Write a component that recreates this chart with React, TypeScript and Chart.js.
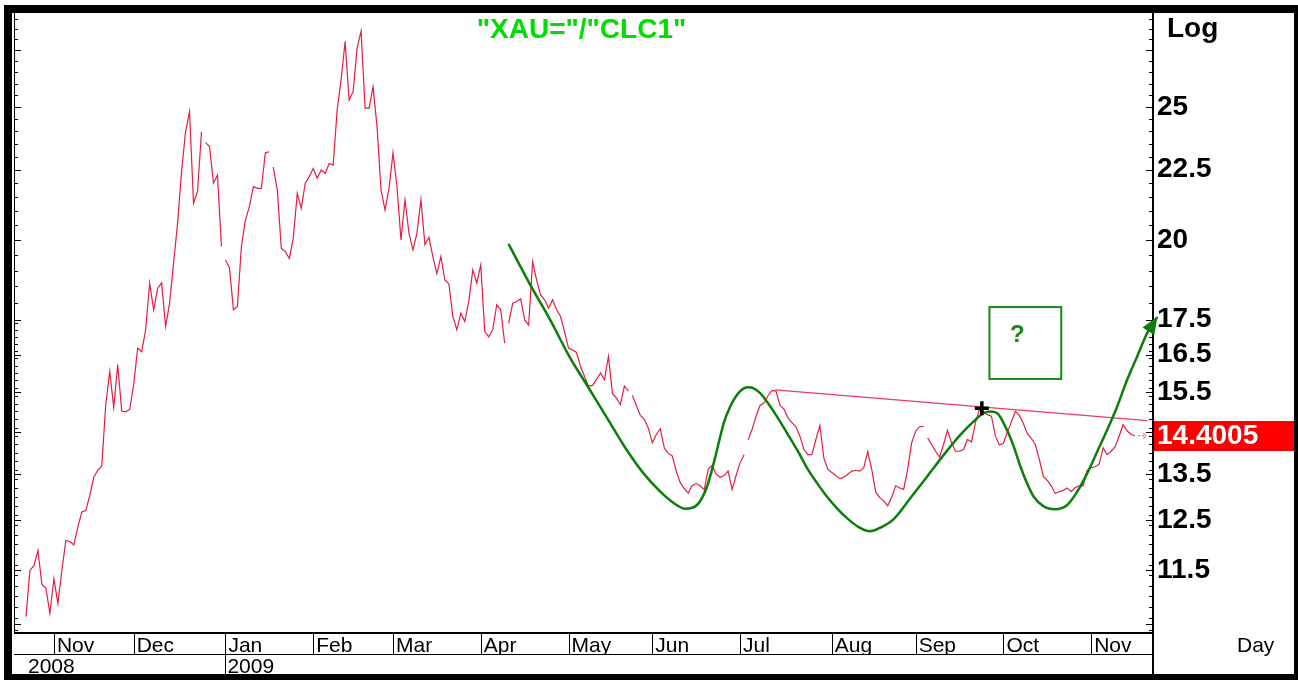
import { useEffect, useRef } from 'react';
import { Chart, registerables } from 'chart.js';

Chart.register(...registerables);

const FONT = '"Liberation Sans", Arial, sans-serif';

// trading-day index of the first value in ratioValues
const FIRST_INDEX = 3;
const ratioValues: number[] = [
  10.63, 11.49, 11.58, 11.88, 11.22, 11.15, 10.69, 11.33, 10.87, 11.49,
  12.08, 12.06, 11.99, 12.36, 12.67, 12.70, 13.03, 13.43, 13.59, 13.69,
  15.17, 16.04, 15.10, 16.23, 15.01, 14.99, 15.05, 15.69, 16.68, 16.58,
  17.20, 18.60, 17.79, 18.44, 18.61, 17.30, 17.99, 19.23, 20.57, 22.43,
  23.98, 24.81, 21.27, 21.69, 23.98, 23.55, 23.40, 22.00, 22.30, 19.78,
  19.34, 19.10, 17.79, 17.89, 19.78, 20.68, 21.15, 21.87, 21.81, 21.81,
  23.15, 23.19, 22.60, 21.75, 19.72, 19.62, 19.39, 20.05, 21.63, 21.09,
  22.00, 22.24, 22.55, 22.18, 22.49, 22.36, 22.74, 22.68, 24.87, 26.20,
  27.90, 25.30, 25.65, 27.60, 28.40, 24.95, 24.95, 25.86, 24.19, 21.75,
  21.03, 21.81, 23.15, 21.87, 20.00, 21.39, 20.23, 19.67, 20.23, 21.40,
  19.84, 20.09, 19.45, 18.90, 19.45, 18.70, 18.58, 17.59, 17.20, 17.69,
  17.44, 18.04, 19.02, 18.60, 19.18, 17.15, 17.00, 17.20, 17.94, 17.79,
  16.82, 17.39, 17.99, 18.04, 18.12, 17.49, 17.34, 19.29, 18.70, 18.24,
  18.09, 17.84, 18.09, 17.79, 17.59, 17.15, 16.68, 16.63, 16.56, 16.18,
  15.91, 15.65, 15.67, 15.82, 16.00, 15.82, 16.45, 15.46, 15.34, 15.17,
  15.65, 15.52, 15.41, 15.15, 14.90, 14.80, 14.59, 14.23, 14.43, 14.57,
  14.11, 13.98, 13.92, 13.57, 13.31, 13.18, 13.08, 13.25, 13.29, 13.24,
  13.15, 13.61, 13.70, 13.50, 13.43, 13.47, 13.57, 13.16, 13.47, 13.76,
  13.95, 14.30, 14.55, 14.88, 15.15, 15.21, 15.40, 15.54, 15.52, 15.15,
  15.06, 14.84, 14.72, 14.62, 14.39, 14.07, 13.95, 13.95, 14.31, 14.65,
  13.87, 13.61, 13.54, 13.47, 13.40, 13.43, 13.50, 13.57, 13.59, 13.57,
  13.65, 14.02, 13.61, 13.10, 12.98, 12.91, 12.80, 12.99, 13.24, 13.19,
  13.16, 13.61, 14.23, 14.51, 14.62, 14.63, 14.35, 14.19, 14.03, 13.89,
  14.19, 14.53, 14.23, 14.03, 14.03, 14.07, 14.31, 14.25, 14.72, 15.05,
  15.00, 14.92, 14.88, 14.39, 14.18, 14.22, 14.49, 14.74, 15.00, 14.90,
  14.70, 14.45, 14.34, 14.19, 13.84, 13.45, 13.36, 13.24, 13.07, 13.11,
  13.14, 13.19, 13.11, 13.20, 13.24, 13.24, 13.59, 13.65, 13.67, 13.73,
  14.11, 13.95, 14.03, 14.13, 14.39, 14.67, 14.52, 14.43, 14.4005,
];
// positions (between trading days) where the plotted line is broken
const lineBreaks = [47.5, 52.5, 64.5, 123.5, 154.5, 183.5, 228.5];
const lastValue = 14.4005;

const monthTicks = [10, 30, 53, 75, 95, 117, 139, 160, 182, 205, 226, 248, 270];
const monthLabels = ['Nov', 'Dec', 'Jan', 'Feb', 'Mar', 'Apr', 'May', 'Jun', 'Jul', 'Aug', 'Sep', 'Oct', 'Nov'];
const yearTicks = [3, 53];
const yearLabels = ['2008', '2009'];

const labelledTicks = [25, 22.5, 20, 17.5, 16.5, 15.5, 13.5, 12.5, 11.5];
const longTicks = [27.5, 25, 22.5, 20, 17.5, 16.5, 15.5, 14.5, 13.5, 12.5, 11.5, 10.5];

// hand-drawn green wave
const curveIdx = [
  123.95, 129.4, 134.4, 139.4, 143.6, 149.45, 153.6, 157.7, 162.0, 165.25,
  168.3, 171.2, 173.7, 175.8, 177.9, 179.5, 181.2, 182.9, 184.1, 185.4,
  187.1, 188.7, 191.25, 193.8, 196.3, 198.8, 201.3, 203.8, 206.3, 208.8,
  211.6, 214.6, 217.6, 220.5, 224.7, 228.9, 233.0, 237.2, 240.55, 243.05,
  244.7, 246.4, 248.9, 250.6, 252.3, 253.9, 255.6, 258.1, 261.0, 264.0,
  266.5, 269.0, 271.5, 274.0, 276.5, 279.0, 281.5, 284.0, 286.6,
];
const curveVal = [
  19.87, 18.55, 17.49, 16.41, 15.68, 14.71, 14.06, 13.53, 13.11, 12.87,
  12.74, 12.82, 13.22, 13.90, 14.71, 15.12, 15.42, 15.59, 15.62, 15.59,
  15.46, 15.25, 14.87, 14.46, 14.06, 13.64, 13.30, 13.00, 12.75, 12.54,
  12.36, 12.27, 12.36, 12.52, 12.97, 13.45, 13.94, 14.42, 14.75, 14.96,
  15.00, 14.96, 14.54, 14.14, 13.67, 13.30, 13.00, 12.79, 12.73, 12.82,
  13.11, 13.52, 14.02, 14.54, 15.12, 15.81, 16.44, 17.10, 17.58,
];

const trendIdx = [190.8, 284.1];
const trendVal = [15.55, 14.77];
const markIdx = [242.6];
const markVal = [15.08];

const boxIdx = [244.5, 262.5];
const boxVal = [17.87, 15.84];
const questionIdx = 251.5;
const questionVal = 17.05;

const X_MAX = 285.5;
const Y_MIN = 10.36;
const Y_MAX = 29.27;

const minorTicks: number[] = [];
for (let k = 36; k <= 58; k++) {
  const v = k / 2;
  if (!longTicks.includes(v)) minorTicks.push(v);
}
for (let k = 52; k <= 87; k++) {
  const v = Math.round((k / 5) * 10) / 10;
  if (!longTicks.includes(v)) minorTicks.push(v);
}

const zeroPad = (s: any) => {
  s.paddingTop = 0;
  s.paddingBottom = 0;
  s.paddingLeft = 0;
  s.paddingRight = 0;
};

const decoPlugin = {
  id: 'deco',
  beforeDraw(chart: any) {
    const { ctx, width, height } = chart;
    ctx.save();
    ctx.fillStyle = '#ffffff';
    ctx.fillRect(0, 0, width, height);
    ctx.restore();
  },
  afterDraw(chart: any) {
    const { ctx, chartArea: a, scales, width, height } = chart;
    const xs = scales.x;
    const ys = scales.y;
    ctx.save();
    ctx.fillStyle = '#000';
    // inward tick marks on both vertical edges
    const tick = (v: number, len: number) => {
      const py = Math.round(ys.getPixelForValue(v));
      ctx.fillRect(a.left, py, len, 1);
      ctx.fillRect(a.right - len, py, len, 1);
    };
    longTicks.forEach((v) => tick(v, 7));
    minorTicks.forEach((v) => tick(v, 4));

    // frame lines
    ctx.fillRect(a.left, a.top, 1, a.bottom - a.top);
    ctx.fillRect(a.left, a.bottom, a.right - a.left, 2);
    ctx.fillRect(a.right - 1, a.top, 2, height - a.top);
    ctx.fillRect(a.left, a.bottom + 22, a.right - a.left, 1);
    monthTicks.forEach((m) => {
      const px = Math.round(xs.getPixelForValue(m));
      ctx.fillRect(px, a.bottom, 1, 22);
    });
    const janPx = Math.round(xs.getPixelForValue(yearTicks[1]));
    ctx.fillRect(janPx, a.bottom + 22, 1, 22);

    // title
    ctx.font = `bold 28px ${FONT}`;
    ctx.fillStyle = '#00dd00';
    ctx.textAlign = 'center';
    ctx.textBaseline = 'middle';
    ctx.fillText('"XAU="/"CLC1"', (a.left + a.right) / 2 - 2, 30);

    // axis captions
    ctx.fillStyle = '#000';
    ctx.textAlign = 'left';
    ctx.font = `bold 28px ${FONT}`;
    ctx.fillText('Log', a.right + 14, 29);
    ctx.font = `21px ${FONT}`;
    ctx.fillText('Day', a.right + 84, 646);

    // last value box
    const ly = ys.getPixelForValue(lastValue);
    ctx.fillStyle = '#ff0000';
    ctx.fillRect(a.right + 1, Math.round(ly) - 15, width - a.right, 30);
    ctx.fillStyle = '#ffffff';
    ctx.font = `bold 28px ${FONT}`;
    ctx.fillText(String(lastValue), a.right + 4, ly + 1);

    // small dotted arrow after last value
    const lx = xs.getPixelForValue(FIRST_INDEX + ratioValues.length - 1);
    ctx.strokeStyle = '#e8405a';
    ctx.lineWidth = 1;
    ctx.setLineDash([2, 2]);
    ctx.beginPath();
    ctx.moveTo(lx + 3, ly);
    ctx.lineTo(lx + 11, ly);
    ctx.stroke();
    ctx.setLineDash([]);
    ctx.beginPath();
    ctx.moveTo(lx + 8, ly - 3);
    ctx.lineTo(lx + 11, ly);
    ctx.lineTo(lx + 8, ly + 3);
    ctx.stroke();

    // question box
    const bx0 = xs.getPixelForValue(boxIdx[0]);
    const bx1 = xs.getPixelForValue(boxIdx[1]);
    const by0 = ys.getPixelForValue(boxVal[0]);
    const by1 = ys.getPixelForValue(boxVal[1]);
    ctx.strokeStyle = '#168a16';
    ctx.lineWidth = 2;
    ctx.strokeRect(bx0, by0, bx1 - bx0, by1 - by0);
    ctx.fillStyle = '#168a16';
    ctx.font = `bold 24px ${FONT}`;
    ctx.textAlign = 'center';
    ctx.fillText('?', xs.getPixelForValue(questionIdx), ys.getPixelForValue(questionVal));

    // green arrow head
    const n = curveIdx.length;
    const tx = xs.getPixelForValue(curveIdx[n - 1]);
    const ty = ys.getPixelForValue(curveVal[n - 1]);
    const px = xs.getPixelForValue(curveIdx[n - 2]);
    const py = ys.getPixelForValue(curveVal[n - 2]);
    const ang = Math.atan2(ty - py, tx - px);
    const L = 17;
    const W = 7;
    const bxh = tx - L * Math.cos(ang);
    const byh = ty - L * Math.sin(ang);
    ctx.fillStyle = '#0a800a';
    ctx.beginPath();
    ctx.moveTo(tx, ty);
    ctx.lineTo(bxh + W * Math.sin(ang), byh - W * Math.cos(ang));
    ctx.lineTo(bxh - W * Math.sin(ang), byh + W * Math.cos(ang));
    ctx.closePath();
    ctx.fill();

    // outer black border
    ctx.fillStyle = '#000';
    ctx.fillRect(4, 5, width - 8, 8);
    ctx.fillRect(4, 5, 8, height - 5);
    ctx.fillRect(4, height - 6, width - 4, 6);
    ctx.fillRect(width - 4, 5, 4, height - 5);
    ctx.restore();
  },
};

export default function App() {
  const ref = useRef<HTMLCanvasElement | null>(null);

  useEffect(() => {
    if (!ref.current) return;
    const ratioData: { x: number; y: number | null }[] = ratioValues.map((v, k) => ({ x: FIRST_INDEX + k, y: v }));
    lineBreaks.forEach((b) => ratioData.push({ x: b, y: null }));
    ratioData.sort((p, q) => p.x - q.x);
    const curveData = curveIdx.map((x, k) => ({ x, y: curveVal[k] }));
    const trendData = trendIdx.map((x, k) => ({ x, y: trendVal[k] }));
    const markData = markIdx.map((x, k) => ({ x, y: markVal[k] }));

    const chart = new Chart(ref.current, {
      type: 'line',
      data: {
        datasets: [
          {
            type: 'scatter',
            data: markData as any,
            pointStyle: 'cross',
            pointRadius: 7,
            pointBorderWidth: 3.5,
            borderColor: '#000',
            backgroundColor: '#000',
            order: 0,
          } as any,
          {
            data: curveData as any,
            borderColor: '#0a800a',
            borderWidth: 2.5,
            pointRadius: 0,
            cubicInterpolationMode: 'monotone',
            clip: false,
            order: 1,
          },
          {
            data: trendData as any,
            borderColor: '#ee3a62',
            borderWidth: 1.3,
            pointRadius: 0,
            order: 2,
          },
          {
            data: ratioData as any,
            borderColor: '#e51d42',
            borderWidth: 1.2,
            pointRadius: 0,
            spanGaps: false,
            tension: 0,
            order: 3,
          },
        ],
      },
      options: {
        responsive: false,
        animation: false,
        devicePixelRatio: 1,
        events: [],
        layout: { padding: { left: 14, top: 13, right: 0, bottom: 0 } },
        plugins: { legend: { display: false }, tooltip: { enabled: false }, title: { display: false } },
        scales: {
          x: {
            type: 'linear',
            position: 'bottom',
            min: 0,
            max: X_MAX,
            grid: { display: false, drawTicks: false },
            border: { display: false },
            afterBuildTicks: (s: any) => {
              s.ticks = monthTicks.map((v) => ({ value: v }));
            },
            afterFit: (s: any) => {
              s.height = 22;
              zeroPad(s);
            },
            ticks: {
              autoSkip: false,
              maxRotation: 0,
              minRotation: 0,
              align: 'start',
              labelOffset: 3,
              padding: 2,
              color: '#000',
              font: { family: FONT, size: 21 },
              callback: (_v: any, i: number) => monthLabels[i] ?? '',
            },
          },
          x2: {
            type: 'linear',
            position: 'bottom',
            min: 0,
            max: X_MAX,
            grid: { display: false, drawTicks: false },
            border: { display: false },
            afterBuildTicks: (s: any) => {
              s.ticks = yearTicks.map((v) => ({ value: v }));
            },
            afterFit: (s: any) => {
              s.height = 26;
              zeroPad(s);
            },
            ticks: {
              autoSkip: false,
              maxRotation: 0,
              minRotation: 0,
              align: 'start',
              labelOffset: 2,
              padding: 1,
              color: '#000',
              font: { family: FONT, size: 21 },
              callback: (_v: any, i: number) => yearLabels[i] ?? '',
            },
          },
          y: {
            type: 'logarithmic',
            position: 'right',
            min: Y_MIN,
            max: Y_MAX,
            grid: { display: false, drawTicks: false },
            border: { display: false },
            afterBuildTicks: (s: any) => {
              s.ticks = labelledTicks.map((v) => ({ value: v }));
            },
            afterFit: (s: any) => {
              s.width = 145;
              zeroPad(s);
            },
            ticks: {
              autoSkip: false,
              padding: 4,
              color: '#000',
              font: { family: FONT, size: 28, weight: 'bold' },
              callback: (v: any) => String(v),
            },
          },
        },
      } as any,
      plugins: [decoPlugin],
    });
    return () => chart.destroy();
  }, []);

  return (
    <div style={{ position: 'fixed', left: 0, top: 0, width: 1298, height: 680 }}>
      <canvas ref={ref} width={1298} height={680} style={{ display: 'block' }} />
    </div>
  );
}
